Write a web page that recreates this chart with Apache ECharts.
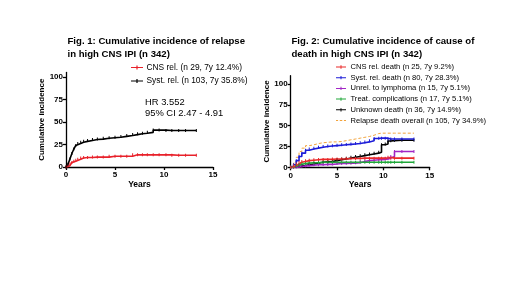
<!DOCTYPE html>
<html lang="en">
<head>
  <meta charset="UTF-8">
  <title>Cumulative incidence</title>
  <script src="https://cdn.jsdelivr.net/npm/echarts@6/dist/echarts.min.js"></script>
  <style>
    body { margin: 0; background: #fff; }
  </style>
</head>
<body>
  <div id="main" style="width: 520px;height:292px"></div>
  <script>
    // Fig. 1 - relapse
    var years1 = [0, 0.2, 0.4, 0.6, 0.8, 1.0, 1.2, 1.5, 1.8, 2.2, 2.7, 3.2, 3.8, 4.4, 5.0, 5.6, 6.2, 6.8, 7.3, 7.8, 8.3, 8.9, 9.5, 10.2, 10.8, 11.5, 12.2, 13.3]
    var systRel = [0, 3, 9, 15, 20, 24, 26, 27.5, 28.5, 29.5, 30.5, 31, 32, 32.5, 33, 34, 35, 36, 37, 37.5, 38.5, 41, 41, 40.5, 40.5, 40.5, 40.5, 40.5]
    var cnsRel = [0, 1.5, 3.5, 5, 6.5, 7.5, 8.5, 10, 10.5, 10.5, 11, 11, 11, 12, 12, 12, 12, 13.5, 13.5, 13.5, 13.5, 13.5, 13.5, 13.5, 13, 13, 13, 13]

    // Fig. 2 - cause of death
    var years2 = [0, 0.3, 0.6, 0.9, 1.2, 1.6, 2.0, 2.5, 3.0, 3.5, 4.0, 4.5, 5.0, 5.5, 6.0, 6.5, 7.0, 7.5, 8.0, 8.5, 9.0, 9.5, 9.8, 10.2, 10.5, 10.8, 11.2, 12.0, 13.3]
    var cnsDeath = [0, 2, 4, 6, 7, 8, 8.5, 9, 9.5, 9.5, 9.5, 10, 10, 10, 10.5, 10.5, 10.5, 11, 11, 11, 11, 11, 11, 11, 12, 11, 11, 11, 11]
    var systDeath = [0, 3, 8, 13, 17, 20.5, 22, 23, 24, 25, 25.5, 26, 26.5, 27, 27.5, 28, 28.5, 29.5, 30.5, 32, 34.5, 35, 35, 35, 34, 34, 34, 34, 34]
    var unrelDeath = [0, 0, 0.5, 1, 1.5, 2, 2.5, 3, 3, 3.5, 3.5, 4, 4.5, 4.5, 5, 5, 5.5, 7, 8, 8.5, 9, 9, 9.5, 10, 11, 13, 19, 19, 19]
    var treatDeath = [0, 1, 2.5, 3.5, 4.5, 5, 5.5, 5.5, 6, 6, 6, 6, 6, 6, 6, 6, 6, 6, 6, 6, 6, 6, 6, 6, 6, 6, 6, 6, 6]
    var unknownDeath = [0, 0.5, 1, 1.5, 2, 3, 4, 5, 6, 6.5, 7, 8, 9, 10, 11, 12, 13, 14, 15, 16, 17, 18, 27, 28, 31.5, 32, 32.5, 32.5, 32.5]
    var relapseOverall = [0, 5, 12, 19, 23, 26, 27, 28.5, 29.5, 30, 30.5, 30.5, 31, 32, 33, 34, 35, 36, 37, 38.5, 40.5, 41, 41, 41, 41, 41, 41, 41, 41]

    var yTicks = [0, 25, 50, 75, 100]
    var names1 = ['CNS rel. (n 29, 7y 12.4%)', 'Syst. rel. (n 103, 7y 35.8%)']
    var names2 = ['CNS rel. death (n 25, 7y 9.2%)', 'Syst. rel. death (n 80, 7y 28.3%)',
      'Unrel. to lymphoma (n 15, 7y 5.1%)', 'Treat. complications (n 17, 7y 5.1%)',
      'Unknown death (n 36, 7y 14.9%)', 'Relapse death overall (n 105, 7y 34.9%)']

    var font = 'Liberation Sans, Arial, sans-serif'
    // legend icons: line with a small tick, or dashes
    var lineIcon = 'path://M0,4.4 L12,4.4 L12,5.6 L0,5.6 Z M5.4,3 L6.6,3 L6.6,7 L5.4,7 Z'
    var dashIcon = 'path://M0,4.4 L2.5,4.4 L2.5,5.6 L0,5.6 Z M4.5,4.4 L7.5,4.4 L7.5,5.6 L4.5,5.6 Z M9.5,4.4 L12,4.4 L12,5.6 L9.5,5.6 Z'

    function pairs(xs, ys) {
      var out = []
      for (var i = 0; i < xs.length; i++) {
        out.push([xs[i], ys[i]])
      }
      return out
    }

    function curve(name, idx, xs, ys, color, dashed) {
      return {
        name: name,
        type: 'line',
        xAxisIndex: idx,
        yAxisIndex: idx,
        step: 'end',
        data: pairs(xs, ys),
        symbol: dashed ? 'none' : 'rect',
        symbolSize: [1, 3],
        lineStyle: { color: color, width: dashed ? 1 : 1.6, type: dashed ? [3, 2] : 'solid' },
        itemStyle: { color: color },
        animation: false
      }
    }

    function xAx(idx) {
      return {
        gridIndex: idx,
        type: 'value',
        min: 0, max: 15, interval: 5,
        name: 'Years',
        nameLocation: 'middle',
        nameGap: 13,
        nameTextStyle: { fontFamily: font, fontWeight: 'bold', fontSize: 8.5, color: '#000' },
        axisLine: { lineStyle: { color: '#000', width: 1.3 } },
        axisTick: { length: 3, lineStyle: { color: '#000', width: 1.3 } },
        axisLabel: { fontFamily: font, fontWeight: 'bold', fontSize: 8, color: '#000', margin: 4 },
        splitLine: { show: false }
      }
    }

    function yAx(idx, max, gap) {
      return {
        gridIndex: idx,
        type: 'value',
        min: 0, max: max,
        name: 'Cumulative incidence',
        nameLocation: 'middle',
        nameGap: gap,
        nameTextStyle: { fontFamily: font, fontWeight: 'bold', fontSize: 8, color: '#000' },
        axisLine: { show: true, lineStyle: { color: '#000', width: 1.3 } },
        axisTick: { show: true, length: 3, customValues: yTicks, lineStyle: { color: '#000', width: 1.3 } },
        axisLabel: { customValues: yTicks, fontFamily: font, fontWeight: 'bold', fontSize: 8, color: '#000', margin: 3 },
        splitLine: { show: false }
      }
    }

    function legendData(names, dashedLast) {
      return names.map(function (n, i) {
        return { name: n, icon: (dashedLast && i === names.length - 1) ? dashIcon : lineIcon }
      })
    }

    var mCharts = echarts.init(document.getElementById('main'))
    var option = {
      backgroundColor: '#fff',
      title: [
        {
          text: 'Fig. 1: Cumulative incidence of relapse\nin high CNS IPI (n 342)',
          left: 67.5, top: 34.5, padding: 0,
          textStyle: { fontFamily: font, fontWeight: 'bold', fontSize: 9.6, lineHeight: 13, color: '#000' }
        },
        {
          text: 'Fig. 2: Cumulative incidence of cause of\ndeath in high CNS IPI (n 342)',
          left: 291.5, top: 34.5, padding: 0,
          textStyle: { fontFamily: font, fontWeight: 'bold', fontSize: 9.6, lineHeight: 13, color: '#000' }
        }
      ],
      legend: [
        {
          data: legendData(names1, false),
          orient: 'vertical',
          left: 131, top: 63.5, padding: 0,
          itemWidth: 12, itemHeight: 9, itemGap: 5.5,
          textStyle: { fontFamily: font, fontSize: 8.4, color: '#000', padding: [0, 0, 0, -1.5] }
        },
        {
          data: legendData(names2, true),
          orient: 'vertical',
          left: 336, top: 63, padding: 0,
          itemWidth: 10, itemHeight: 8, itemGap: 2.7,
          textStyle: { fontFamily: font, fontSize: 7.6, color: '#000', padding: [0, 0, 0, -0.5] }
        }
      ],
      graphic: [
        {
          type: 'text',
          left: 145, top: 97.5,
          style: { text: 'HR 3.552\n95% CI 2.47 - 4.91', fontFamily: font, fontSize: 9.4, lineHeight: 10.5, fill: '#000' }
        }
      ],
      grid: [
        { left: 66, top: 72.5, width: 147, height: 94.5 },
        { left: 290.7, top: 75.7, width: 139, height: 91.6 }
      ],
      xAxis: [xAx(0), xAx(1)],
      yAxis: [yAx(0, 105, 19), yAx(1, 110, 18)],
      series: [
        curve(names1[0], 0, years1, cnsRel, '#e8212a'),
        curve(names1[1], 0, years1, systRel, '#000'),
        curve(names2[5], 1, years2, relapseOverall, '#f2a33c', true),
        curve(names2[4], 1, years2, unknownDeath, '#000'),
        curve(names2[1], 1, years2, systDeath, '#1d1dd8'),
        curve(names2[2], 1, years2, unrelDeath, '#a226c6'),
        curve(names2[3], 1, years2, treatDeath, '#20a83a'),
        curve(names2[0], 1, years2, cnsDeath, '#ea2a2a')
      ]
    }
    mCharts.setOption(option)
  </script>
</body>
</html>
